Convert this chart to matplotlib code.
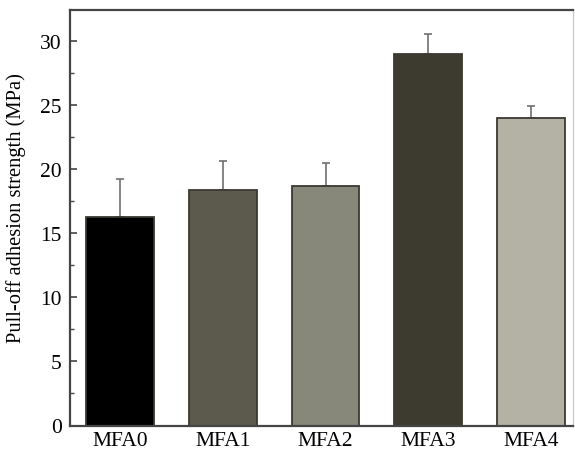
import matplotlib.pyplot as plt
import numpy as np
from matplotlib.ticker import MultipleLocator

samples = ["MFA0", "MFA1", "MFA2", "MFA3", "MFA4"]
strength = [16.25, 18.4, 18.7, 29.0, 24.0]
upper_error = [2.95, 2.2, 1.8, 1.5, 0.95]
bar_colors = ["#000000", "#5b5a4d", "#87877a", "#3d3b2f", "#b3b2a5"]


def main() -> None:
    plt.rcParams["font.family"] = ["Liberation Serif", "DejaVu Serif"]

    figure = plt.figure(figsize=(5.75, 4.52), dpi=100)
    axis = figure.add_axes([70 / 575, 1 - 426.5 / 452, 503 / 575, 415.5 / 452])

    positions = np.arange(len(samples))
    axis.bar(
        positions,
        strength,
        width=0.66,
        color=bar_colors,
        edgecolor="#3a3a33",
        linewidth=1.3,
        zorder=2,
    )
    axis.errorbar(
        positions,
        strength,
        yerr=[np.zeros(len(samples)), upper_error],
        fmt="none",
        ecolor="#707070",
        elinewidth=1.2,
        capsize=2.6,
        capthick=1.2,
        zorder=1,
    )

    axis.set_xlim(-0.49, 4.41)
    axis.set_ylim(0, 32.4)
    axis.set_xticks(positions)
    axis.set_xticklabels(samples)
    axis.yaxis.set_major_locator(MultipleLocator(5))
    axis.yaxis.set_minor_locator(MultipleLocator(2.5))
    axis.tick_params(axis="y", which="major", direction="in", length=5,
                     width=1.2, color="#444444", labelsize=15.5, pad=6)
    axis.tick_params(axis="y", which="minor", direction="in", length=3,
                     width=1.0, color="#444444")
    axis.tick_params(axis="x", length=0, labelsize=15.5, pad=4)
    axis.set_ylabel("Pull-off adhesion strength (MPa)", fontsize=14.8)
    axis.yaxis.set_label_coords(-0.088, 0.525)

    for side in ["left", "top", "bottom"]:
        axis.spines[side].set_color("#444444")
        axis.spines[side].set_linewidth(1.6)
    axis.spines["right"].set_color("#cccccc")
    axis.spines["right"].set_linewidth(1.0)

    figure.savefig("out.png", dpi=100)


if __name__ == "__main__":
    main()
